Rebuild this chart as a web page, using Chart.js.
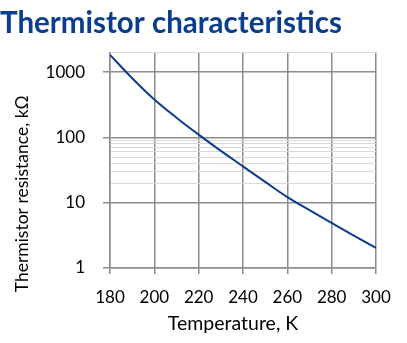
<!DOCTYPE html>
<html>
<head>
<meta charset="utf-8">
<script src="https://cdn.jsdelivr.net/npm/chart.js@4/dist/chart.umd.min.js"></script>
<style>
  html, body { margin: 0; padding: 0; background: #ffffff; }
  #wrap { width: 407px; height: 343px; }
</style>
</head>
<body>
<div id="wrap"><canvas id="c" width="407" height="343"></canvas></div>
<script>
// Temperature (K) and thermistor resistance (kΩ)
const temperatures = [180, 190, 200, 210, 220, 230, 240, 250, 260, 270, 280, 290, 300];
const resistances  = [1830, 805, 380, 200, 110, 62, 36, 20.8, 12.2, 7.7, 4.9, 3.13, 2.03];
// Axis ticks
const xTickValues = [180, 200, 220, 240, 260, 280, 300];
const yTickValues = [1, 10, 20, 30, 40, 50, 60, 70, 80, 90, 100, 1000, 2000];
const yLabelValues = [1, 10, 100, 1000];

const blue = '#0b3d8e';
const majorGrid = '#8c8c8c';
const minorGrid = '#d9d9d9';
const font = 'Lato';

const points = temperatures.map((t, i) => ({ x: t, y: resistances[i] }));

new Chart(document.getElementById('c'), {
  type: 'line',
  data: {
    datasets: [{
      data: points,
      borderColor: blue,
      borderWidth: 2,
      pointRadius: 0,
      fill: false,
      cubicInterpolationMode: 'monotone'
    }]
  },
  options: {
    responsive: false,
    animation: false,
    devicePixelRatio: 1,
    layout: { padding: { left: 0, right: 31, top: 0, bottom: 0 } },
    plugins: {
      legend: { display: false },
      tooltip: { enabled: false },
      title: {
        display: true,
        text: 'Thermistor characteristics',
        align: 'start',
        color: blue,
        font: { family: font, size: 29.5, weight: 'bold' },
        padding: { top: 6, bottom: 11 }
      }
    },
    scales: {
      x: {
        type: 'linear',
        min: 180,
        max: 300,
        afterBuildTicks: s => { s.ticks = xTickValues.map(v => ({ value: v })); },
        afterFit: s => { s.height = 75; },
        ticks: {
          color: '#000',
          font: { family: font, size: 17 },
          padding: 13,
          maxRotation: 0
        },
        grid: {
          color: majorGrid,
          lineWidth: 1.5,
          tickLength: 6,
          tickColor: majorGrid
        },
        border: { color: majorGrid, width: 1.5 },
        title: {
          display: true,
          text: 'Temperature, K    ',
          color: '#000',
          font: { family: font, size: 19.5 },
          padding: { top: 0, bottom: 8 }
        }
      },
      y: {
        type: 'logarithmic',
        min: 1,
        max: 2000,
        afterBuildTicks: s => { s.ticks = yTickValues.map(v => ({ value: v })); },
        afterFit: s => { s.width = 110; },
        ticks: {
          color: '#000',
          font: { family: font, size: 17 },
          padding: 18,
          autoSkip: false,
          callback: v => yLabelValues.includes(v) ? String(v) : ''
        },
        grid: {
          color: c => yLabelValues.includes(c.tick.value) ? majorGrid : minorGrid,
          lineWidth: c => yLabelValues.includes(c.tick.value) ? 1.5 : 1,
          tickLength: 7,
          tickColor: c => yLabelValues.includes(c.tick.value) ? majorGrid : 'rgba(0,0,0,0)'
        },
        border: { color: majorGrid, width: 1.5 },
        title: {
          display: true,
          text: 'Thermistor resistance, kΩ' + ' '.repeat(15),
          color: '#000',
          font: { family: font, size: 17.5 },
          padding: { top: 12, bottom: 0 }
        }
      }
    }
  }
});
</script>
</body>
</html>
